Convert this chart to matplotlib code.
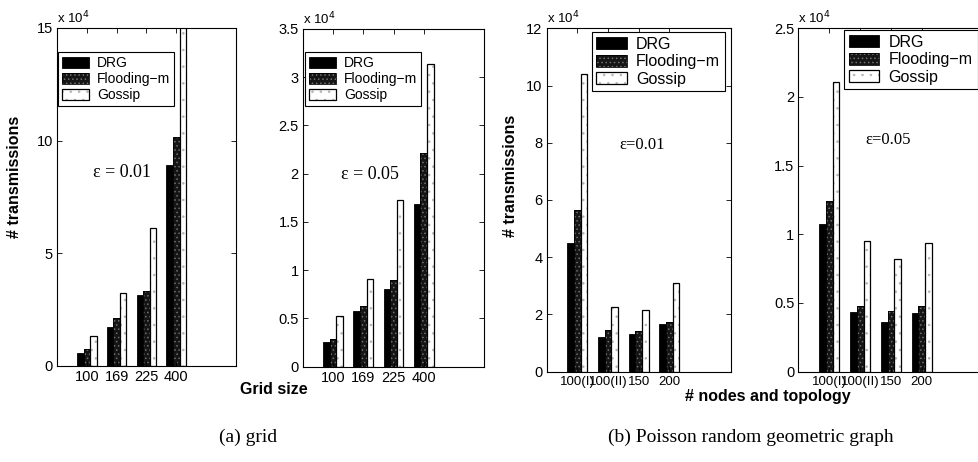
import numpy as np
import matplotlib
matplotlib.use('Agg')
import matplotlib.pyplot as plt
from matplotlib.ticker import FuncFormatter

plt.rcParams['font.family'] = ['Liberation Sans', 'DejaVu Sans']
plt.rcParams['hatch.linewidth'] = 0.6

# x categories
grid_sizes = ['100', '169', '225', '400']
topologies = ['100(I)', '100(II)', '150', '200']

# transmissions, in units of 1e4
grid_drg_001 = [0.56, 1.71, 3.15, 8.91]
grid_flood_001 = [0.74, 2.11, 3.34, 10.18]
grid_gossip_001 = [1.34, 3.22, 6.12, 15.3]

grid_drg_005 = [0.26, 0.58, 0.81, 1.69]
grid_flood_005 = [0.29, 0.63, 0.90, 2.21]
grid_gossip_005 = [0.53, 0.91, 1.73, 3.14]

rgg_drg_001 = [4.48, 1.20, 1.30, 1.65]
rgg_flood_001 = [5.66, 1.45, 1.43, 1.74]
rgg_gossip_001 = [10.4, 2.27, 2.17, 3.10]

rgg_drg_005 = [1.075, 0.437, 0.364, 0.43]
rgg_flood_005 = [1.24, 0.478, 0.44, 0.478]
rgg_gossip_005 = [2.11, 0.95, 0.82, 0.94]

series_names = ['DRG', 'Flooding\u2212m', 'Gossip']


def draw_panel(ax, labels, drg, flood, gossip, ymax, ystep, eps_text, eps_xy,
               eps_fs, leg_loc, leg_anchor, leg_fs, xtick_fs=10.5):
    x = np.arange(1, len(labels) + 1)
    w = 0.22
    # DRG: solid black
    b1 = ax.bar(x - w, drg, w, color='black', edgecolor='black', linewidth=0.6)
    # Flooding-m: black with grey speckle
    h2 = ax.bar(x, flood, w, color='#151515', edgecolor='#707070', hatch='....', linewidth=0)
    o2 = ax.bar(x, flood, w, fill=False, edgecolor='black', linewidth=0.6)
    # Gossip: white with light speckle
    h3 = ax.bar(x + w, gossip, w, color='white', edgecolor='#b5b5b5', hatch='..', linewidth=0)
    o3 = ax.bar(x + w, gossip, w, fill=False, edgecolor='black', linewidth=0.9)

    ax.set_xlim(0, 6)
    ax.set_ylim(0, ymax)
    ax.set_xticks(x)
    ax.set_xticklabels(labels, fontsize=xtick_fs)
    ax.set_yticks(np.arange(0, ymax + ystep / 2, ystep))
    ax.yaxis.set_major_formatter(FuncFormatter(lambda v, p: '%g' % v))
    ax.tick_params(direction='in', top=True, right=True, length=3.5, width=0.6,
                   pad=3)
    ax.tick_params(axis='y', labelsize=10.5)
    for s in ax.spines.values():
        s.set_linewidth(0.8)

    ax.text(0.0, 1.005, 'x 10$^{4}$', transform=ax.transAxes, ha='left', va='bottom',
            fontsize=9.5)
    ax.text(eps_xy[0], eps_xy[1], eps_text, transform=ax.transAxes, ha='center',
            va='center', fontsize=eps_fs, family='Liberation Serif')

    handles = [b1[0], (h2[0], o2[0]), (h3[0], o3[0])]
    leg = ax.legend(handles, series_names, loc=leg_loc, bbox_to_anchor=leg_anchor,
                    borderaxespad=0, fontsize=leg_fs, fancybox=False, framealpha=1,
                    edgecolor='black', handlelength=1.9, handleheight=0.8,
                    handletextpad=0.6, labelspacing=0.15, borderpad=0.3)
    leg.get_frame().set_linewidth(0.8)
    return ax


fig = plt.figure(figsize=(9.79, 4.62), dpi=100)

ax1 = fig.add_axes([0.0582, 0.2078, 0.1828, 0.7316])
draw_panel(ax1, grid_sizes, grid_drg_001, grid_flood_001, grid_gossip_001, 15, 5,
           '\u03b5 = 0.01', (0.363, 0.571), 13, 'upper left', (0.006, 0.929), 10)
ax1.set_ylabel('# transmissions', fontsize=11.5, fontweight='bold')
ax1.yaxis.set_label_coords(-0.195, 0.56)

ax2 = fig.add_axes([0.3095, 0.2063, 0.1849, 0.731])
draw_panel(ax2, grid_sizes, grid_drg_005, grid_flood_005, grid_gossip_005, 3.5, 0.5,
           '\u03b5 = 0.05', (0.37, 0.568), 13, 'upper left', (0.011, 0.932), 10)

ax3 = fig.add_axes([0.5584, 0.1955, 0.188, 0.7433])
draw_panel(ax3, topologies, rgg_drg_001, rgg_flood_001, rgg_gossip_001, 12, 2,
           '\u03b5=0.01', (0.518, 0.66), 12, 'upper right', (0.969, 0.989), 11.5,
           xtick_fs=9.5)
ax3.set_ylabel('# transmissions', fontsize=11.5, fontweight='bold')
ax3.yaxis.set_label_coords(-0.156, 0.57)

ax4 = fig.add_axes([0.8156, 0.1955, 0.189, 0.7433])
draw_panel(ax4, topologies, rgg_drg_005, rgg_flood_005, rgg_gossip_005, 2.5, 0.5,
           '\u03b5=0.05', (0.484, 0.675), 12, 'upper left', (0.246, 0.995), 11.5,
           xtick_fs=9.5)

fig.text(274 / 979, 1 - 389 / 462, 'Grid size', ha='center', va='center',
         fontsize=11.5, fontweight='bold')
fig.text(768 / 979, 1 - 397 / 462, '# nodes and topology', ha='center', va='center',
         fontsize=11.5, fontweight='bold')

fig.text(248 / 979, 1 - 437 / 462, '(a) grid', ha='center', va='center',
         fontsize=14, family='Liberation Serif')
fig.text(751 / 979, 1 - 437 / 462, '(b) Poisson random geometric graph', ha='center',
         va='center', fontsize=14, family='Liberation Serif')

fig.savefig('out.png', dpi=100)
